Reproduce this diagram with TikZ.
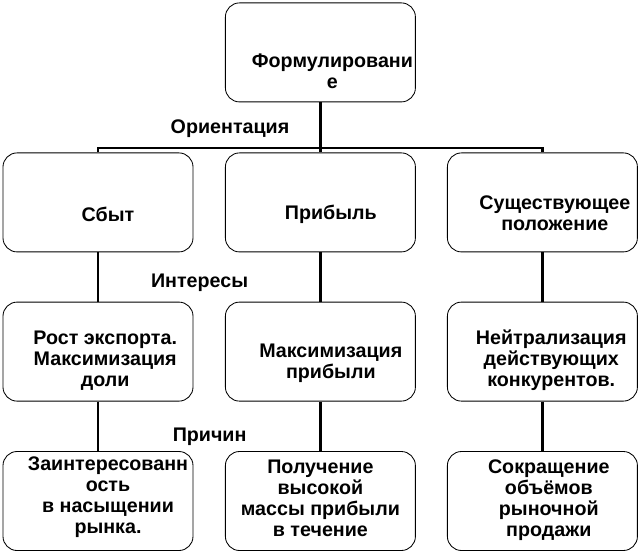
\documentclass[tikz,border=0pt]{standalone}
\usepackage{fontspec}
\setmainfont{Liberation Sans}

\begin{document}
\begin{tikzpicture}[font=\fontsize{14}{14.9}\selectfont\bfseries]

        \useasboundingbox (0,0) rectangle (16.025,-13.85);

        \begin{scope}[every node/.style={rectangle,rounded corners=10pt,draw,line width=0.6pt,minimum width=4.75cm,minimum height=2.475cm}]
            \node (1) at (8.01,-1.31) {};
            \node (2) at (2.45,-5.06) {};
            \node (3) at (8.01,-5.06) {};
            \node (4) at (13.56,-5.06) {};
            \node (5) at (2.45,-8.79) {};
            \node (6) at (8.01,-8.79) {};
            \node (7) at (13.56,-8.79) {};
            \node (8) at (2.45,-12.525) {};
            \node (9) at (8.01,-12.525) {};
            \node (10) at (13.56,-12.525) {};
        \end{scope}

        \begin{scope}[every node/.style={align=center,inner sep=0pt}]
            \node (t1) at ([shift={(0.3,-0.48)}]1.center) {Формулировани\\е};
            \node (t2) at ([shift={(0.25,-0.31)}]2.center) {Сбыт};
            \node (t3) at ([shift={(0.26,-0.31)}]3.center) {Прибыль};
            \node (t4) at ([shift={(0.31,-0.28)}]4.center) {Существующее\\положение};
            \node (t5) at ([shift={(0.18,-0.22)}]5.center) {Рост экспорта.\\Максимизация\\доли};
            \node (t6) at ([shift={(0.26,-0.28)}]6.center) {Максимизация\\прибыли};
            \node (t7) at ([shift={(0.22,-0.21)}]7.center) {Нейтрализация\\действующих\\конкурентов.};
            \node (t8) at ([shift={(0.25,0.1)}]8.center) {Заинтересованн\\ость\\в насыщении\\рынка.};
            \node (t9) at ([shift={(0,0.06)}]9.center) {Получение\\высокой\\массы прибыли\\в течение};
            \node (t10) at ([shift={(0.16,0.02)}]10.center) {Сокращение\\объёмов\\рыночной\\продажи};

            \node (o) at (5.75,-3.22) {Ориентация};
            \node (i) at (4.99,-7.07) {Интересы};
            \node (p) at (5.24,-10.92) {Причин};
        \end{scope}

        \begin{scope}[line width=1.6pt]
            \coordinate (bus) at (8.01,-3.7);
            \draw (1) -- (3);
            \draw (2.north) |- (bus) -| (4.north);

            \draw (2) -- (5);
            \draw (3) -- (6);
            \draw (4) -- (7);

            \draw (5) -- (8);
            \draw (6) -- (9);
            \draw (7) -- (10);
        \end{scope}

    \end{tikzpicture}
\end{document}
